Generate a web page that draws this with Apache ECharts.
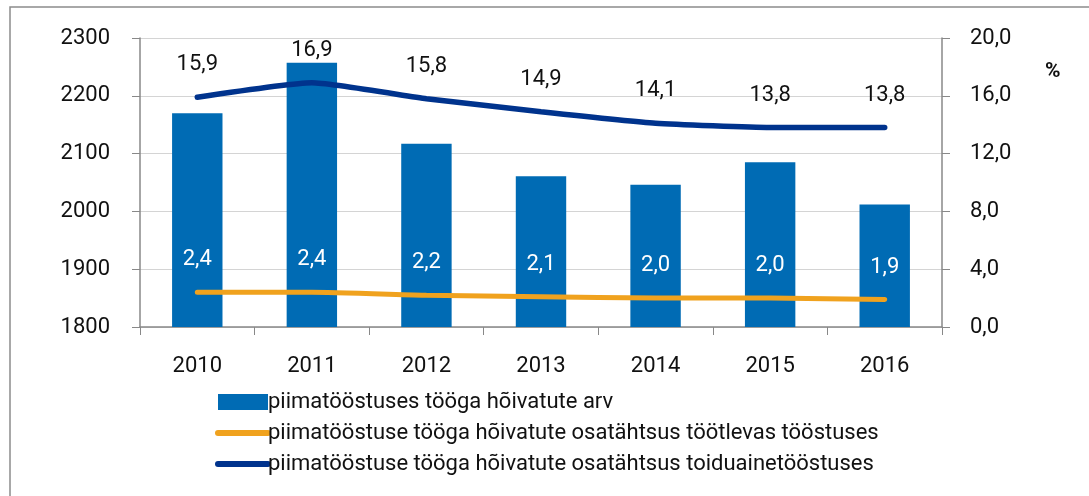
<!DOCTYPE html>
<html>
<head>
<meta charset="utf-8">
<script src="https://cdn.jsdelivr.net/npm/echarts@6/dist/echarts.min.js"></script>
<style>
  html, body { margin: 0; padding: 0; background: #fff; }
  #chart { width: 1089px; height: 496px; }
</style>
</head>
<body>
<div id="chart"></div>
<script>
const years = ["2010", "2011", "2012", "2013", "2014", "2015", "2016"];
const employed = [2170, 2257, 2117, 2061, 2046, 2085, 2012];
const shareManufacturing = [2.4, 2.4, 2.2, 2.1, 2.0, 2.0, 1.9];
const shareFood = [15.9, 16.9, 15.8, 14.9, 14.1, 13.8, 13.8];
const seriesNames = [
  "piimatööstuses tööga hõivatute arv",
  "piimatööstuse tööga hõivatute osatähtsus töötlevas tööstuses",
  "piimatööstuse tööga hõivatute osatähtsus toiduainetööstuses"
];

const font = "'Roboto', sans-serif";
const comma = v => v.toFixed(1).replace(".", ",");

const chart = echarts.init(document.getElementById("chart"));
chart.setOption({
  animation: false,
  textStyle: { fontFamily: font },
  grid: { left: 140, right: 147, top: 38, bottom: 169 },
  graphic: [
    {
      type: "rect",
      shape: { x: 10, y: 7, width: 1100, height: 520 },
      style: { fill: "none", stroke: "#8c8c8c", lineWidth: 1.5 }
    },
    {
      type: "text",
      left: 1045, top: 61,
      style: { text: "%", font: "bold 21px " + font, fill: "#111" }
    }
  ],
  legend: {
    orient: "vertical",
    left: 210, top: 386,
    itemWidth: 50, itemHeight: 16, itemGap: 9,
    textStyle: { fontSize: 22, color: "#111", fontFamily: font, padding: [0, 0, 0, -5] },
    data: [
      { name: seriesNames[0], icon: "rect" },
      { name: seriesNames[1], itemStyle: { opacity: 0 }, lineStyle: { width: 6, cap: "round" } },
      { name: seriesNames[2], itemStyle: { opacity: 0 }, lineStyle: { width: 6, cap: "round" } }
    ]
  },
  xAxis: {
    type: "category",
    data: years,
    axisLine: { lineStyle: { color: "#888", width: 1.5 } },
    axisTick: { show: true, length: 8, lineStyle: { color: "#888" } },
    axisLabel: { fontSize: 22, color: "#111", margin: 28 }
  },
  yAxis: [
    {
      type: "value", min: 1800, max: 2300, interval: 100,
      axisLine: { show: true, lineStyle: { color: "#888", width: 1.5 } },
      axisTick: { show: true, length: 8, lineStyle: { color: "#888" } },
      axisLabel: { fontSize: 22, color: "#111", margin: 30, formatter: v => String(v) },
      splitLine: { lineStyle: { color: "#d4d4d4", width: 1.2 } }
    },
    {
      type: "value", min: 0, max: 20, interval: 4,
      axisLine: { show: true, lineStyle: { color: "#888", width: 1.5 } },
      axisTick: { show: true, length: 8, lineStyle: { color: "#888" } },
      axisLabel: { fontSize: 22, color: "#111", margin: 28, formatter: v => comma(v) },
      splitLine: { show: false }
    }
  ],
  series: [
    {
      name: seriesNames[0],
      type: "bar",
      data: employed,
      barWidth: "44%",
      itemStyle: { color: "#006bb4" }
    },
    {
      name: seriesNames[1],
      type: "line",
      yAxisIndex: 1,
      data: shareManufacturing,
      symbol: "circle",
      symbolSize: 1,
      showSymbol: true,
      smooth: 0.15,
      lineStyle: { color: "#f0a21e", width: 5, cap: "round" },
      itemStyle: { color: "#f0a21e" },
      label: {
        show: true, position: "top", distance: 21,
        fontSize: 22, color: "#fff", formatter: p => comma(p.value)
      }
    },
    {
      name: seriesNames[2],
      type: "line",
      yAxisIndex: 1,
      data: shareFood,
      symbol: "circle",
      symbolSize: 1,
      showSymbol: true,
      smooth: 0.15,
      lineStyle: { color: "#00338d", width: 5.5, cap: "round" },
      itemStyle: { color: "#00338d" },
      label: {
        show: true, position: "top", distance: 21,
        fontSize: 22, color: "#111", formatter: p => comma(p.value)
      }
    }
  ]
});
</script>
</body>
</html>
